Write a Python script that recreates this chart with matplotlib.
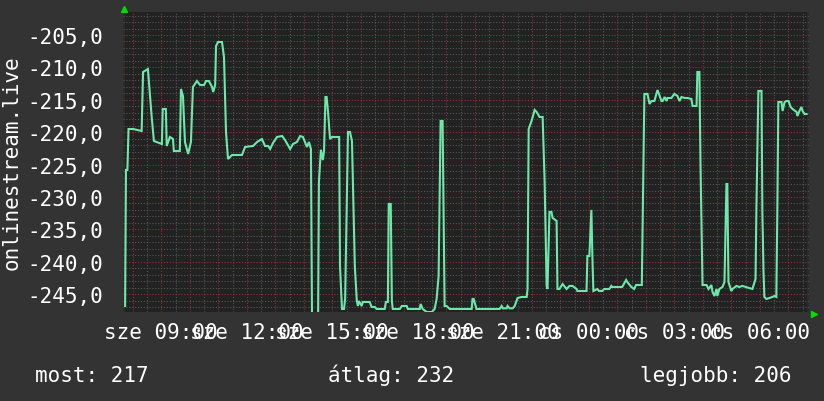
import numpy as np
import matplotlib
matplotlib.use("Agg")
import matplotlib.pyplot as plt

# ---- data (hours since "sze 00:00", value) ----
times = [7.73, 7.76, 7.81, 7.85, 8.01, 8.31, 8.36, 8.53, 8.66, 8.74, 9.02, 9.05, 9.16, 9.19,
         9.30, 9.41, 9.44, 9.65, 9.69, 9.76, 9.83, 9.94, 10.04, 10.11, 10.25, 10.36, 10.50,
         10.57, 10.67, 10.78, 10.82, 10.89, 10.92, 10.99, 11.13, 11.20, 11.27, 11.34, 11.48,
         11.83, 11.94, 12.22, 12.36, 12.53, 12.64, 12.75, 12.82, 12.92, 13.06, 13.24, 13.34,
         13.52, 13.62, 13.76, 13.87, 13.97, 14.04, 14.11, 14.18, 14.25, 14.29, 14.46, 14.50,
         14.53, 14.60, 14.67, 14.71, 14.76, 14.80, 14.85, 14.92, 14.99, 15.24, 15.27, 15.34,
         15.41, 15.45, 15.52, 15.55, 15.62, 15.69, 15.79, 15.86, 15.90, 15.93, 16.03, 16.07,
         16.31, 16.38, 16.49, 16.56, 16.84, 16.88, 16.95, 16.98, 17.05, 17.09, 17.12, 17.37,
         17.44, 17.61, 17.65, 18.07, 18.10, 18.17, 18.31, 18.49, 18.59, 18.66, 18.73, 18.80,
         18.87, 18.94, 19.01, 19.12, 19.89, 19.92, 19.96, 20.06, 20.87, 20.94, 20.98, 21.12,
         21.15, 21.22, 21.33, 21.40, 21.50, 21.64, 21.82, 21.85, 21.89, 21.99, 22.03, 22.10,
         22.17, 22.27, 22.38, 22.45, 22.52, 22.55, 22.62, 22.69, 22.73, 22.87, 22.90, 22.97,
         23.08, 23.22, 23.32, 23.43, 23.57, 23.60, 23.92, 23.95, 24.02, 24.09, 24.13, 24.16,
         24.30, 24.36, 24.47, 24.54, 24.72, 24.79, 24.82, 25.17, 25.31, 25.35, 25.49, 25.59,
         25.66, 25.86, 25.95, 26.06, 26.13, 26.20, 26.30, 26.41, 26.48, 26.55, 26.59, 26.66,
         26.73, 26.76, 26.90, 27.00, 27.11, 27.18, 27.25, 27.36, 27.46, 27.60, 27.64, 27.78,
         27.81, 27.88, 27.92, 27.99, 28.13, 28.20, 28.30, 28.34, 28.41, 28.48, 28.51, 28.58,
         28.69, 28.76, 28.83, 28.86, 28.90, 29.00, 29.04, 29.18, 29.28, 29.39, 29.74, 29.85,
         29.88, 29.95, 30.06, 30.09, 30.13, 30.16, 30.23, 30.34, 30.44, 30.51, 30.58, 30.62,
         30.65, 30.76, 30.80, 30.87, 30.94, 31.01, 31.08, 31.15, 31.29, 31.32, 31.39, 31.46,
         31.50, 31.57, 31.64]
values = [-246.82, -225.83, -225.83, -219.51, -219.51, -219.81, -210.71, -210.25, -217.50, -221.36,
          -221.82, -216.42, -216.42, -222.13, -220.74, -221.05, -222.90, -222.90, -213.33, -214.41,
          -221.51, -223.36, -221.51, -213.02, -212.10, -212.72, -212.72, -212.10, -212.10, -213.02,
          -213.80, -212.72, -206.70, -206.08, -206.08, -208.40, -219.97, -224.14, -223.52, -223.52,
          -222.28, -222.13, -221.51, -221.05, -222.13, -222.13, -222.59, -221.65, -220.74, -220.59,
          -221.20, -222.59, -221.82, -221.51, -220.59, -220.74, -221.51, -222.28, -221.51, -222.59,
          -250.00, -250.00, -250.00, -227.69, -222.70, -224.30, -222.90, -214.57, -214.57, -216.88,
          -221.05, -220.74, -220.74, -240.65, -247.28, -247.28, -245.74, -228.30, -219.97, -219.97,
          -221.36, -240.65, -246.05, -246.82, -246.05, -246.82, -246.20, -246.20, -246.98, -246.98,
          -247.28, -247.28, -246.20, -246.20, -231.08, -231.08, -246.05, -247.28, -247.28, -246.82,
          -246.82, -247.28, -247.28, -246.51, -247.28, -247.75, -247.75, -247.28, -245.74, -242.19,
          -218.27, -218.27, -246.82, -246.82, -247.28, -247.28, -245.74, -245.74, -247.28, -247.28,
          -246.82, -247.18, -247.18, -246.82, -247.18, -247.18, -246.82, -245.59, -245.43, -245.43,
          -244.20, -219.51, -218.27, -217.65, -216.57, -216.88, -217.65, -217.65, -227.69, -243.73,
          -244.20, -232.31, -232.31, -233.24, -233.70, -244.20, -244.20, -243.43, -244.20, -243.73,
          -243.73, -244.20, -244.51, -244.51, -239.10, -239.10, -232.00, -240.00, -244.51, -244.20,
          -244.51, -244.51, -244.20, -244.20, -243.73, -243.89, -243.89, -242.81, -243.12, -243.89,
          -244.20, -243.58, -243.58, -214.10, -214.10, -215.65, -215.19, -215.19, -213.49, -214.35,
          -215.19, -215.19, -214.57, -215.19, -214.72, -214.72, -214.10, -214.41, -215.19, -214.57,
          -214.72, -214.72, -214.88, -215.96, -215.96, -210.71, -210.71, -225.37, -243.58, -243.58,
          -244.20, -243.58, -244.66, -245.28, -244.20, -245.28, -244.20, -243.89, -243.12, -228.00,
          -228.00, -243.12, -244.51, -244.20, -243.73, -243.89, -243.73, -244.20, -242.65, -231.85,
          -213.64, -213.64, -232.31, -241.50, -245.43, -245.74, -245.59, -245.43, -245.28, -245.43,
          -230.00, -215.34, -215.34, -216.73, -215.34, -215.19, -215.19, -216.11, -216.42, -216.88,
          -217.50, -216.73, -216.11, -216.73, -217.19, -217.19]

x_tick_hours = [9, 12, 15, 18, 21, 24, 27, 30]
x_tick_labels = ["sze 09:00", "sze 12:00", "sze 15:00", "sze 18:00",
                 "sze 21:00", "cs 00:00", "cs 03:00", "cs 06:00"]
y_ticks = [-245, -240, -235, -230, -225, -220, -215, -210, -205]
y_label = "onlinestream.live"
legend_texts = ["most: 217", "átlag: 232", "legjobb: 206"]

# ---- style ----
W, H = 824, 402
DPI = 100
BG = "#333333"
PLOT_BG = "#222222"
LINE = "#6ee8aa"
MINOR = "#555555"
MAJOR = "#8a3434"
FONT = "DejaVu Sans Mono"
FS = 15

plt.rcParams["font.family"] = [FONT, "DejaVu Sans"]

fig = plt.figure(figsize=(W / DPI, H / DPI), dpi=DPI, facecolor=BG)
ax = fig.add_axes([123 / W, 1 - 313 / H, 686 / W, 300 / H])
ax.set_facecolor(PLOT_BG)

XMIN, XMAX = 7.656, 31.726
YMIN, YMAX = -247.75, -201.45
ax.set_xlim(XMIN, XMAX)
ax.set_ylim(YMIN, YMAX)

# unknown-data strips at both ends
ax.axvspan(XMIN, times[0], color="#2b2b2b", lw=0, zorder=0.5)
ax.axvspan(times[-1], XMAX, color="#2b2b2b", lw=0, zorder=0.5)

dot = (0, (1, 1.6))
for xv in np.arange(8.0, 32.0, 0.5):
    is_major = abs(xv - round(xv)) < 1e-6
    ax.axvline(xv, color=MAJOR if is_major else MINOR, lw=0.8, ls=dot, zorder=1)
for yv in np.arange(-247, -201, 1.0):
    is_major = int(round(yv)) % 5 == 0
    ax.axhline(yv, color=MAJOR if is_major else MINOR, lw=0.8, ls=dot, zorder=1)

ax.plot(times, values, color=LINE, lw=1.5, zorder=3, solid_joinstyle="miter")

for s in ax.spines.values():
    s.set_visible(False)

ax.set_xticks(x_tick_hours)
ax.set_xticklabels(x_tick_labels)
ax.set_yticks(y_ticks)
ax.set_yticklabels([f"{v:.1f}".replace(".", ",") for v in y_ticks])
ax.tick_params(axis="both", length=0, colors="white", labelsize=FS)
ax.tick_params(axis="y", pad=14)
ax.tick_params(axis="x", pad=7)

fig.text(12 / W, 1 - 163 / H, y_label, rotation=90, ha="center", va="center",
         color="white", fontsize=FS, family=FONT)

base = 1 - 382 / H
fig.text(35 / W, base, legend_texts[0], ha="left", va="baseline", color="white", fontsize=FS)
fig.text(328 / W, base, legend_texts[1], ha="left", va="baseline", color="white", fontsize=FS)
fig.text(792 / W, base, legend_texts[2], ha="right", va="baseline", color="white", fontsize=FS)

# green axis arrows
fig.lines.append(plt.Line2D([124.5 / W], [1 - 9.5 / H], marker="^", markersize=5,
                            color="#00dd00", transform=fig.transFigure, figure=fig, lw=0))
fig.lines.append(plt.Line2D([814 / W], [1 - 315 / H], marker=">", markersize=5,
                            color="#00dd00", transform=fig.transFigure, figure=fig, lw=0))

fig.savefig("out.png", dpi=DPI, facecolor=BG)
